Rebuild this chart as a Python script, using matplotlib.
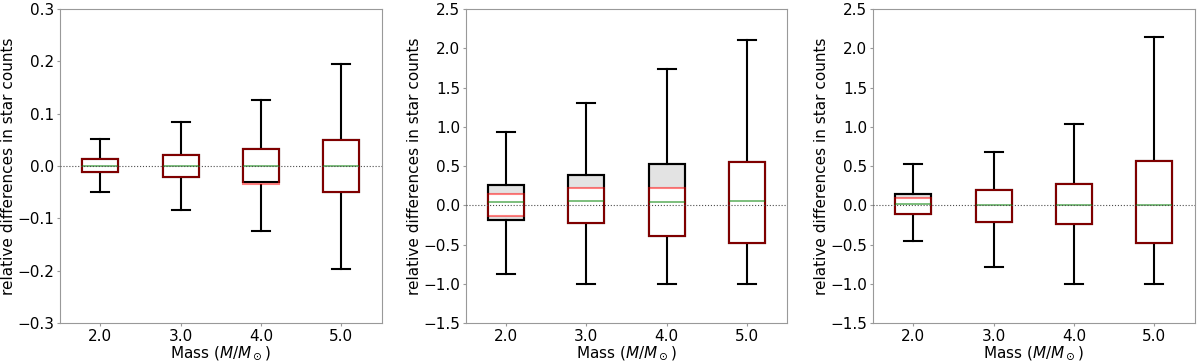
import numpy as np
import matplotlib.pyplot as plt

# posiciones de las cajas (masa)
masses = [2.0, 3.0, 4.0, 5.0]
tick_labels = ['2.0', '3.0', '4.0', '5.0']

# Panel 1: caja negra (q1, q3), caja roja (q1, q3), mediana, bigotes
p1_black_q1 = [-0.011, -0.020, -0.030, -0.049]
p1_black_q3 = [0.014, 0.021, 0.033, 0.049]
p1_red_q1 = [-0.011, -0.020, -0.034, -0.049]
p1_red_q3 = [0.013, 0.021, 0.033, 0.049]
p1_med = [0.0, 0.0, 0.0, 0.0]
p1_wlo = [-0.050, -0.083, -0.125, -0.196]
p1_whi = [0.052, 0.084, 0.126, 0.195]

# Panel 2
p2_black_q1 = [-0.19, -0.23, -0.39, -0.48]
p2_black_q3 = [0.26, 0.38, 0.53, 0.55]
p2_red_q1 = [-0.14, -0.23, -0.39, -0.48]
p2_red_q3 = [0.15, 0.225, 0.22, 0.55]
p2_med = [0.045, 0.055, 0.04, 0.05]
p2_wlo = [-0.88, -1.0, -1.0, -1.0]
p2_whi = [0.94, 1.30, 1.74, 2.10]

# Panel 3
p3_black_q1 = [-0.105, -0.21, -0.235, -0.475]
p3_black_q3 = [0.15, 0.19, 0.27, 0.565]
p3_red_q1 = [-0.105, -0.21, -0.235, -0.475]
p3_red_q3 = [0.09, 0.19, 0.27, 0.565]
p3_med = [0.015, 0.01, 0.01, 0.0]
p3_wlo = [-0.46, -0.79, -1.0, -1.0]
p3_whi = [0.53, 0.685, 1.03, 2.14]

panels = [
    (p1_black_q1, p1_black_q3, p1_red_q1, p1_red_q3, p1_med, p1_wlo, p1_whi, (-0.3, 0.3), 0.1),
    (p2_black_q1, p2_black_q3, p2_red_q1, p2_red_q3, p2_med, p2_wlo, p2_whi, (-1.5, 2.5), 0.5),
    (p3_black_q1, p3_black_q3, p3_red_q1, p3_red_q3, p3_med, p3_wlo, p3_whi, (-1.5, 2.5), 0.5),
]

lefts = [0.05, 0.388, 0.7275]
RED = (1, 0, 0, 0.5)

fig = plt.figure(figsize=(12, 3.63), dpi=100)

for left, (bq1, bq3, rq1, rq3, med, wlo, whi, ylim, step) in zip(lefts, panels):
    ax = fig.add_axes([left, 0.110, 0.268, 0.865])

    stats_black = [dict(med=m, q1=a, q3=b, whislo=lo, whishi=hi, fliers=[])
                   for m, a, b, lo, hi in zip(med, bq1, bq3, wlo, whi)]
    stats_red = [dict(med=m, q1=a, q3=b, whislo=a, whishi=b, fliers=[])
                 for m, a, b in zip(med, rq1, rq3)]
    common = dict(positions=masses, widths=0.45, patch_artist=True,
                  showfliers=False, manage_ticks=False)

    # 1) caja negra con relleno gris y bigotes
    ax.bxp(stats_black, boxprops=dict(facecolor='0.89', edgecolor='black', linewidth=1.5, zorder=2),
           whiskerprops=dict(color='black', linewidth=1.5),
           capprops=dict(color='black', linewidth=1.5),
           medianprops=dict(linewidth=0), **common)
    # 2) relleno blanco de la caja roja
    ax.bxp(stats_red, boxprops=dict(facecolor='white', edgecolor='none', linewidth=0, zorder=3),
           whiskerprops=dict(linewidth=0), showcaps=False,
           medianprops=dict(linewidth=0), **common)
    # 3) bordes negros otra vez
    ax.bxp(stats_black, boxprops=dict(facecolor='none', edgecolor='black', linewidth=1.5, zorder=4),
           whiskerprops=dict(linewidth=0), showcaps=False,
           medianprops=dict(linewidth=0), **common)
    # 4) bordes rojos semitransparentes y mediana verde
    ax.bxp(stats_red, boxprops=dict(facecolor='none', edgecolor=RED, linewidth=1.5, zorder=5),
           whiskerprops=dict(linewidth=0), showcaps=False,
           medianprops=dict(color='green', linewidth=1.2, alpha=0.6, zorder=6), **common)

    ax.axhline(0, color='0.3', linestyle=':', linewidth=0.8, zorder=7)

    ax.set_xlim(1.5, 5.5)
    ax.set_ylim(*ylim)
    ax.set_yticks(np.arange(ylim[0], ylim[1] + step / 2, step))
    ax.set_xticks(masses)
    ax.set_xticklabels(tick_labels)
    ax.tick_params(labelsize=11, length=2, color='0.6', pad=2)
    for s in ax.spines.values():
        s.set_color('0.6')
    ax.set_xlabel(r'Mass ($M/M_\odot$)', fontsize=11, labelpad=0)
    ax.set_ylabel('relative differences in star counts', fontsize=11, labelpad=1)

fig.savefig('out.png', dpi=100)
